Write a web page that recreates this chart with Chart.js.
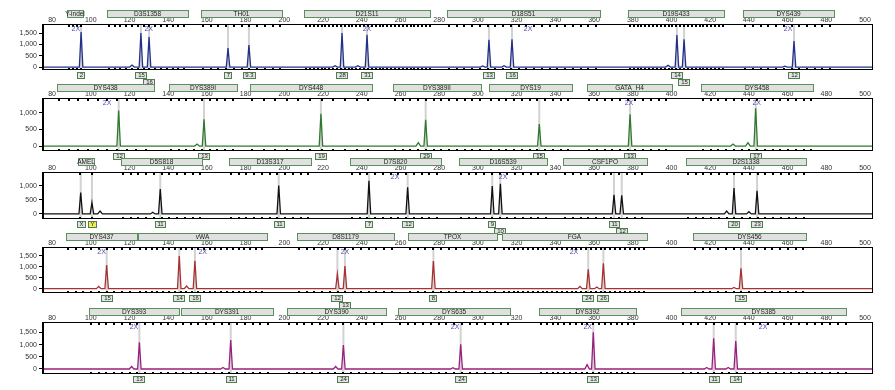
<!DOCTYPE html>
<html>
<head>
<meta charset="utf-8">
<script src="https://cdn.jsdelivr.net/npm/chart.js@4.4.1/dist/chart.umd.min.js"></script>
<style>
  html, body { margin: 0; padding: 0; background: #fff; }
  #wrap { position: relative; width: 895px; height: 390px; overflow: hidden; }
  canvas { position: absolute; left: 0; }
</style>
</head>
<body>
<div id="wrap">
  <canvas id="p1" width="895" height="80" style="top:8px"></canvas>
  <canvas id="p2" width="895" height="80" style="top:82px"></canvas>
  <canvas id="p3" width="895" height="80" style="top:156px"></canvas>
  <canvas id="p4" width="895" height="80" style="top:231px"></canvas>
  <canvas id="p5" width="895" height="80" style="top:306px"></canvas>
</div>
<script>
// size axis (bp) and RFU ticks
const sizeTicks = [80, 100, 120, 140, 160, 180, 200, 220, 240, 260, 280, 300, 320, 340, 360, 380, 400, 420, 440, 460, 480, 500];
const rfuTicksHigh = [0, 500, 1000, 1500];
const rfuTicksLow = [0, 500, 1000];

// panel 1 - blue dye
const p1Markers = ['Y-indel', 'D3S1358', 'TH01', 'D21S11', 'D18S51', 'D19S433', 'DYS439'];
const p1MarkerStart = [87.7, 108.3, 156.9, 210.2, 284.0, 377.5, 437.0];
const p1MarkerEnd = [95.9, 150.2, 198.7, 275.3, 363.1, 427.1, 484.0];
const p1BinStep = [2, 3, 4, 2, 4, 2, 4];
const p1Alleles = ['2', '15', '16', '7', '9.3', '28', '31', '13', '16', '14', '15', '12'];
const p1AlleleBp = [95.0, 125.9, 130.1, 170.9, 181.7, 229.8, 242.7, 305.7, 317.6, 402.8, 406.5, 463.3];
const p1AlleleRfu = [1550, 1500, 1330, 840, 970, 1500, 1420, 1200, 1230, 1410, 1230, 1150];
const p1AlleleRow = [0, 0, 1, 0, 0, 0, 0, 0, 0, 0, 1, 0];
const p1MinorBp = [121.3, 226.2, 238.0, 302.5, 313.5, 398.2, 458.6];
const p1MinorRfu = [90, 60, 60, 50, 60, 80, 40];
const p1TwoX = [92.3, 129.9, 242.7, 325.9, 460.2];

// panel 2 - green dye
const p2Markers = ['DYS438', 'DYS389I', 'DYS448', 'DYS389II', 'DYS19', 'GATA_H4', 'DYS458'];
const p2MarkerStart = [82.5, 140.4, 182.3, 256.1, 305.7, 356.4, 415.2];
const p2MarkerEnd = [132.9, 175.5, 245.3, 301.6, 348.6, 400.3, 473.1];
const p2BinStep = [5, 4, 6, 4, 4, 4, 4];
const p2Alleles = ['12', '13', '19', '29', '15', '13', '17'];
const p2AlleleBp = [114.4, 158.5, 218.9, 273.0, 331.7, 378.6, 443.5];
const p2AlleleRfu = [1070, 810, 970, 790, 660, 960, 1140];
const p2AlleleRow = [0, 0, 0, 0, 0, 0, 0];
const p2MinorBp = [154.9, 269.2, 431.8, 439.5];
const p2MinorRfu = [60, 100, 60, 100];
const p2TwoX = [108.4, 378.0, 444.0];

// panel 3 - black dye
const p3Markers = ['AMEL', 'D5S818', 'D13S317', 'D7S820', 'D16S539', 'CSF1PO', 'D2S1338'];
const p3MarkerStart = [93.4, 115.6, 171.4, 233.9, 290.2, 344.0, 407.5];
const p3MarkerEnd = [101.7, 157.5, 213.8, 281.1, 335.7, 387.3, 469.5];
const p3BinStep = [6, 4, 4, 4, 4, 4, 4];
const p3Alleles = ['X', 'Y', '11', '11', '7', '12', '9', '10', '11', '12', '20', '23'];
const p3AlleleBp = [94.8, 100.6, 135.9, 197.1, 243.7, 263.7, 307.4, 311.6, 370.3, 374.3, 432.3, 444.2];
const p3AlleleRfu = [760, 400, 880, 1010, 1180, 950, 990, 1070, 680, 660, 920, 820];
const p3AlleleRow = [0, 0, 0, 0, 0, 0, 0, 1, 0, 1, 0, 0];
const p3MinorBp = [104.8, 132.0, 428.5, 440.0];
const p3MinorRfu = [100, 60, 100, 80];
const p3TwoX = [257.2, 313.0];

// panel 4 - red dye
const p4Markers = ['DYS437', 'vWA', 'D8S1179', 'TPOX', 'FGA', 'DYS456'];
const p4MarkerStart = [87.2, 124.4, 206.5, 263.9, 312.4, 411.1];
const p4MarkerEnd = [123.9, 191.0, 256.6, 309.9, 387.3, 469.5];
const p4BinStep = [4, 3, 4, 4, 2.5, 4];
const p4Alleles = ['15', '14', '16', '12', '13', '8', '24', '26', '15'];
const p4AlleleBp = [108.2, 145.7, 153.8, 227.4, 231.3, 277.0, 357.0, 364.8, 435.9];
const p4AlleleRfu = [1077, 1486, 1270, 670, 1030, 1260, 880, 1150, 930];
const p4AlleleRow = [0, 0, 0, 0, 1, 0, 0, 0, 0];
const p4MinorBp = [104.1, 149.5, 352.7, 361.4, 432.3];
const p4MinorRfu = [100, 120, 100, 80, 60];
const p4TwoX = [105.6, 157.8, 231.3, 349.6];

// panel 5 - purple dye
const p5Markers = ['DYS393', 'DYS391', 'DYS390', 'DYS635', 'DYS392', 'DYS385'];
const p5MarkerStart = [99.1, 146.6, 201.4, 258.7, 331.6, 404.9];
const p5MarkerEnd = [145.6, 194.1, 252.5, 316.6, 381.7, 490.2];
const p5BinStep = [4, 4, 4, 4, 3, 4];
const p5Alleles = ['13', '11', '24', '24', '13', '11', '14'];
const p5AlleleBp = [125.1, 172.3, 230.5, 291.1, 359.6, 421.8, 433.2];
const p5AlleleRfu = [1094, 1190, 980, 1010, 1500, 1260, 1150];
const p5AlleleRow = [0, 0, 0, 0, 0, 0, 0];
const p5MinorBp = [121.1, 168.3, 226.5, 287.1, 356.4, 418.2, 429.3];
const p5MinorRfu = [100, 60, 100, 50, 180, 60, 60];
const p5TwoX = [122.3, 288.2, 356.7, 447.3];

const X_MIN = 74.8, X_MAX = 504.1;

const panels = [
  { id: 'p1', color: '#23308a', yMin: -130, yMax: 1900, yTicks: rfuTicksHigh, padBottom: 18,
    markers: p1Markers, mStart: p1MarkerStart, mEnd: p1MarkerEnd, bin: p1BinStep,
    alleles: p1Alleles, aBp: p1AlleleBp, aRfu: p1AlleleRfu, aRow: p1AlleleRow,
    minorBp: p1MinorBp, minorRfu: p1MinorRfu, twoX: p1TwoX },
  { id: 'p2', color: '#2f7a2f', yMin: -150, yMax: 1450, yTicks: rfuTicksLow, padBottom: 11,
    markers: p2Markers, mStart: p2MarkerStart, mEnd: p2MarkerEnd, bin: p2BinStep,
    alleles: p2Alleles, aBp: p2AlleleBp, aRfu: p2AlleleRfu, aRow: p2AlleleRow,
    minorBp: p2MinorBp, minorRfu: p2MinorRfu, twoX: p2TwoX },
  { id: 'p3', color: '#111111', yMin: -180, yMax: 1490, yTicks: rfuTicksLow, padBottom: 17,
    markers: p3Markers, mStart: p3MarkerStart, mEnd: p3MarkerEnd, bin: p3BinStep,
    alleles: p3Alleles, aBp: p3AlleleBp, aRfu: p3AlleleRfu, aRow: p3AlleleRow,
    minorBp: p3MinorBp, minorRfu: p3MinorRfu, twoX: p3TwoX },
  { id: 'p4', color: '#a83232', yMin: -195, yMax: 1895, yTicks: rfuTicksHigh, padBottom: 18,
    markers: p4Markers, mStart: p4MarkerStart, mEnd: p4MarkerEnd, bin: p4BinStep,
    alleles: p4Alleles, aBp: p4AlleleBp, aRfu: p4AlleleRfu, aRow: p4AlleleRow,
    minorBp: p4MinorBp, minorRfu: p4MinorRfu, twoX: p4TwoX },
  { id: 'p5', color: '#9a1f80', yMin: -205, yMax: 1926, yTicks: rfuTicksHigh, padBottom: 12,
    markers: p5Markers, mStart: p5MarkerStart, mEnd: p5MarkerEnd, bin: p5BinStep,
    alleles: p5Alleles, aBp: p5AlleleBp, aRfu: p5AlleleRfu, aRow: p5AlleleRow,
    minorBp: p5MinorBp, minorRfu: p5MinorRfu, twoX: p5TwoX }
];

// peak trace: baseline with a narrow peak at each sized fragment
function buildTrace(p) {
  const peaks = p.aBp.map((b, i) => [b, p.aRfu[i], 0.9])
    .concat(p.minorBp.map((b, i) => [b, p.minorRfu[i], 1.2]))
    .sort((a, b) => a[0] - b[0]);
  const pts = [{ x: X_MIN, y: 0 }];
  peaks.forEach(([b, h, w]) => {
    pts.push({ x: b - w, y: 0 }, { x: b, y: h }, { x: b + w, y: 0 });
  });
  pts.push({ x: X_MAX, y: 0 });
  return pts;
}

const FONT = '"Liberation Sans", Arial, sans-serif';

const decor = {
  id: 'decor',
  beforeDatasetsDraw(chart, args, o) {
    const { ctx, chartArea: a, scales: { x } } = chart;
    ctx.save();
    ctx.strokeStyle = '#d2d2d2';
    ctx.lineWidth = 2;
    o.aBp.forEach(b => {
      const px = x.getPixelForValue(b);
      ctx.beginPath();
      ctx.moveTo(px, a.top);
      ctx.lineTo(px, a.bottom);
      ctx.stroke();
    });
    ctx.restore();
  },
  afterDraw(chart, args, o) {
    const { ctx, chartArea: a, scales: { x } } = chart;
    ctx.save();
    // frame
    ctx.strokeStyle = '#000';
    ctx.lineWidth = 1;
    ctx.strokeRect(Math.round(a.left) + 0.5, Math.round(a.top) + 0.5,
      Math.round(a.right - a.left) - 1, Math.round(a.bottom - a.top) - 1);
    ctx.fillStyle = '#000';
    ctx.fillRect(Math.round(a.left), Math.round(a.top), 2, Math.round(a.bottom - a.top));

    // bins along top and bottom edge
    o.markers.forEach((m, i) => {
      for (let b = o.mStart[i] + 1; b < o.mEnd[i]; b += o.bin[i]) {
        const px = Math.round(x.getPixelForValue(b));
        ctx.fillRect(px - 1, Math.round(a.top) + 1, 2, 2);
        ctx.fillRect(px - 1, Math.round(a.bottom) - 2, 2, 2);
      }
    });

    // marker boxes
    ctx.font = '6.5px ' + FONT;
    ctx.textAlign = 'center';
    ctx.textBaseline = 'middle';
    o.markers.forEach((m, i) => {
      const x1 = Math.round(x.getPixelForValue(o.mStart[i]));
      const x2 = Math.round(x.getPixelForValue(o.mEnd[i]));
      const y = Math.round(a.top) - 14;
      ctx.fillStyle = '#e0e0e0';
      ctx.fillRect(x1, y, x2 - x1, 7);
      ctx.strokeStyle = '#5b8f5b';
      ctx.strokeRect(x1 + 0.5, y + 0.5, x2 - x1, 7);
      ctx.fillStyle = '#222';
      ctx.fillText(m, (x1 + x2) / 2, y + 4);
    });

    // allele call labels
    ctx.font = '6px ' + FONT;
    o.alleles.forEach((t, i) => {
      const px = Math.round(x.getPixelForValue(o.aBp[i]));
      const w = Math.round(ctx.measureText(t).width) + 4;
      const y = Math.round(a.bottom) + 2 + o.aRow[i] * 7;
      const x1 = px - Math.round(w / 2);
      ctx.fillStyle = t === 'Y' ? '#eeee55' : '#e4e4e4';
      ctx.fillRect(x1, y, w, 6);
      ctx.strokeStyle = '#4d7f4d';
      ctx.strokeRect(x1 + 0.5, y + 0.5, w, 6);
      ctx.fillStyle = '#222';
      ctx.fillText(t, px + 0.5, y + 3.5);
    });

    // 2X flags
    ctx.fillStyle = '#4848a8';
    ctx.font = '7px ' + FONT;
    o.twoX.forEach(b => ctx.fillText('2X', x.getPixelForValue(b), a.top + 5));
    ctx.restore();
  }
};

Chart.defaults.font.family = FONT;
Chart.defaults.font.size = 7;
Chart.defaults.color = '#333';

panels.forEach(p => {
  new Chart(document.getElementById(p.id), {
    type: 'line',
    data: {
      datasets: [{
        data: buildTrace(p),
        borderColor: p.color,
        borderWidth: 1.3,
        pointRadius: 0,
        tension: 0,
        fill: false
      }]
    },
    options: {
      responsive: false,
      animation: false,
      devicePixelRatio: 1,
      events: [],
      layout: { padding: { top: 8, bottom: p.padBottom, left: 0, right: 22 } },
      plugins: {
        legend: { display: false },
        tooltip: { enabled: false },
        decor: p
      },
      scales: {
        x: {
          type: 'linear',
          position: 'top',
          min: X_MIN,
          max: X_MAX,
          bounds: 'data',
          grid: { display: false, drawTicks: false },
          border: { display: false },
          ticks: { autoSkip: false, maxRotation: 0, padding: 0, font: { size: 7 } },
          afterBuildTicks: s => { s.ticks = sizeTicks.map(v => ({ value: v })); },
          afterFit: s => { s.height = 8; s.paddingLeft = 0; s.paddingRight = 0; }
        },
        y: {
          min: p.yMin,
          max: p.yMax,
          bounds: 'data',
          grid: { drawOnChartArea: false, drawTicks: true, tickLength: 3, color: '#000' },
          border: { display: false },
          ticks: {
            padding: 2,
            font: { size: 7 },
            callback: v => v.toLocaleString('en-US')
          },
          afterBuildTicks: s => { s.ticks = p.yTicks.map(v => ({ value: v })); },
          afterFit: s => { s.width = 42; s.paddingTop = 0; s.paddingBottom = 0; }
        }
      }
    },
    plugins: [decor]
  });
});
</script>
</body>
</html>
